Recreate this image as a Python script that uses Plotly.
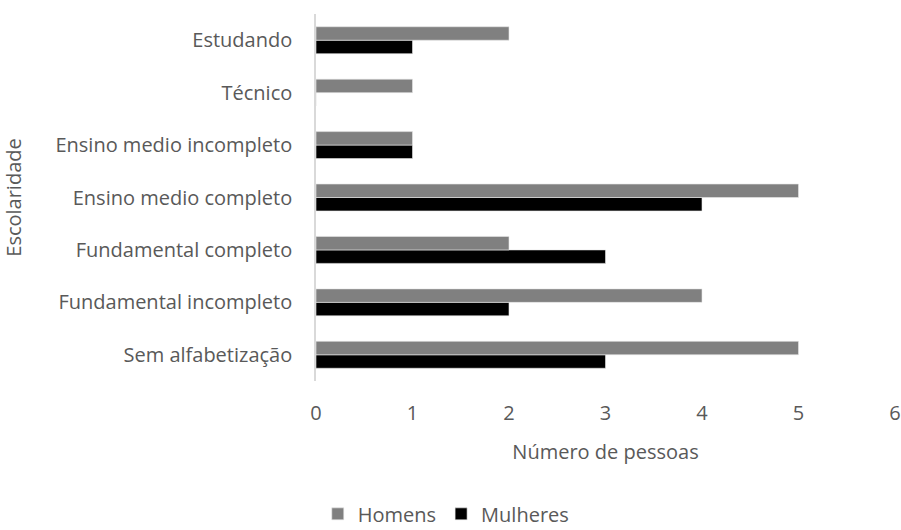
import plotly.graph_objects as go

categorias = ["Sem alfabetização", "Fundamental incompleto", "Fundamental completo",
              "Ensino medio completo", "Ensino medio incompleto", "Técnico", "Estudando"]
homens = [5, 4, 2, 5, 1, 1, 2]
mulheres = [3, 2, 3, 4, 1, 0, 1]
x_ticks = [0, 1, 2, 3, 4, 5, 6]

FONT = "Open Sans, sans-serif"
TXT = "#595959"
FS = 20

fig = go.Figure()
fig.add_trace(go.Bar(y=categorias, x=mulheres, name="Mulheres", orientation="h",
                     marker=dict(color="#000000", line=dict(color="#e8e8e8", width=0.6)),
                     legendrank=2))
fig.add_trace(go.Bar(y=categorias, x=homens, name="Homens", orientation="h",
                     marker=dict(color="#808080", line=dict(color="#e8e8e8", width=0.6)),
                     legendrank=1))

fig.update_layout(
    width=901, height=530,
    margin=dict(l=316, r=6, t=14, b=149, autoexpand=False),
    paper_bgcolor="white", plot_bgcolor="white",
    barmode="group", bargap=0.486, bargroupgap=0,
    font=dict(family=FONT, size=FS, color=TXT),
    showlegend=True,
    legend=dict(orientation="h", xref="paper", yref="paper",
                x=0.225, xanchor="center", y=-0.362, yanchor="middle",
                font=dict(size=FS, color=TXT), itemwidth=30,
                traceorder="normal"),
    xaxis=dict(range=[0, 6], tickvals=x_ticks, showgrid=False, zeroline=False,
               showline=False, ticks="", ticklabelstandoff=18, automargin=False,
               tickfont=dict(size=FS, color=TXT),
               title=dict(text="Número de pessoas", font=dict(size=FS, color=TXT), standoff=19)),
    yaxis=dict(showgrid=False, zeroline=False, showline=True, linecolor="#d9d9d9",
               linewidth=1.5, ticks="", ticklabelstandoff=18, automargin=False,
               tickfont=dict(size=FS, color=TXT),
               title=dict(text="Escolaridade", font=dict(size=FS, color=TXT), standoff=28)),
)
fig.write_html("out.html", config={"displayModeBar": False},
               post_script="document.body.style.margin='0';document.body.style.overflow='hidden';")
